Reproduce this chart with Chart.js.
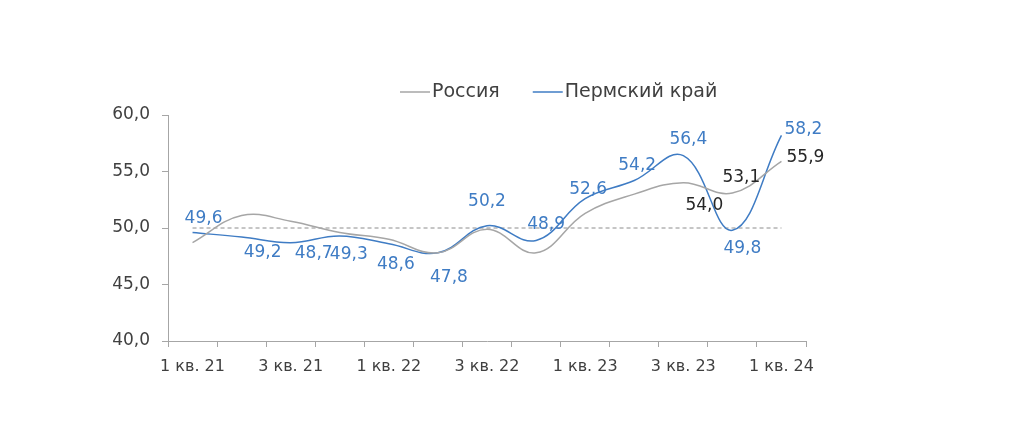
<!DOCTYPE html>
<html lang="ru">
<head>
<meta charset="utf-8">
<title>Россия и Пермский край</title>
<script src="https://cdn.jsdelivr.net/npm/chart.js@4/dist/chart.umd.min.js"></script>
<style>
    html, body { margin: 0; padding: 0; background: #fff; }
    #wrap { width: 1016px; height: 447px; position: relative; }
</style>
</head>
<body>
<div id="wrap"><canvas id="chart" width="1016" height="447"></canvas></div>
<script>
// данные графика
const quarters = ['1 кв. 21', '2 кв. 21', '3 кв. 21', '4 кв. 21', '1 кв. 22', '2 кв. 22', '3 кв. 22',
    '4 кв. 22', '1 кв. 23', '2 кв. 23', '3 кв. 23', '4 кв. 23', '1 кв. 24'];
const russia = [48.7, 51.1, 50.6, 49.6, 49.0, 47.8, 49.9, 47.8, 51.3, 53.0, 54.0, 53.1, 55.9];
const perm = [49.6, 49.2, 48.7, 49.3, 48.6, 47.8, 50.2, 48.9, 52.6, 54.2, 56.4, 49.8, 58.2];
const baseline = [50, 50, 50, 50, 50, 50, 50, 50, 50, 50, 50, 50, 50];
const yMin = 40;
const yMax = 60;
const yStep = 5;

// смещения подписей значений относительно точек (null — без подписи)
const permLabelPos = [[11, -14], [21, 16], [23, 11], [9, 19], [7, 21], [11, 25], [0, -24],
    [10, -16], [3, -9], [3, -15], [5, -16], [10, 18], [22, -6]];
const russiaLabelPos = [null, null, null, null, null, null, null, null, null, null,
    [21, 23], [9, -15], [24, -4]];

const FONT = '"DejaVu Sans", sans-serif';
const fmt = v => v.toFixed(1).replace('.', ',');

// подписи значений у точек
const valueLabels = {
    id: 'valueLabels',
    afterDatasetsDraw(chart) {
        const ctx = chart.ctx;
        ctx.save();
        ctx.font = '17px ' + FONT;
        ctx.textAlign = 'center';
        ctx.textBaseline = 'middle';
        chart.data.datasets.forEach((ds, di) => {
            if (!ds.labelPos) return;
            const meta = chart.getDatasetMeta(di);
            ctx.fillStyle = ds.labelColor;
            meta.data.forEach((pt, i) => {
                const off = ds.labelPos[i];
                if (!off) return;
                ctx.fillText(fmt(ds.data[i]), pt.x + off[0], pt.y + off[1]);
            });
        });
        ctx.restore();
    }
};

// легенда над графиком
const topLegend = {
    id: 'topLegend',
    afterDraw(chart) {
        const ctx = chart.ctx;
        ctx.save();
        ctx.font = '19px ' + FONT;
        ctx.textBaseline = 'middle';
        let x = 400;
        const y = 92;
        chart.data.datasets.filter(ds => ds.inLegend).forEach(ds => {
            ctx.strokeStyle = ds.borderColor;
            ctx.lineWidth = 1.5;
            ctx.beginPath();
            ctx.moveTo(x, y);
            ctx.lineTo(x + 30, y);
            ctx.stroke();
            ctx.fillStyle = '#404040';
            ctx.fillText(ds.label, x + 32, y);
            x += 32 + ctx.measureText(ds.label).width + 33;
        });
        ctx.restore();
    }
};

new Chart(document.getElementById('chart'), {
    type: 'line',
    data: {
        labels: quarters,
        datasets: [
            {
                label: 'Россия',
                data: russia,
                borderColor: '#a6a6a6',
                borderWidth: 1.5,
                tension: 0.4,
                pointRadius: 0,
                labelPos: russiaLabelPos,
                labelColor: '#262626',
                inLegend: true
            },
            {
                label: 'Пермский край',
                data: perm,
                borderColor: '#3f7cc4',
                borderWidth: 1.5,
                tension: 0.4,
                pointRadius: 0,
                labelPos: permLabelPos,
                labelColor: '#3f7cc4',
                inLegend: true
            },
            {
                label: '50',
                data: baseline,
                borderColor: '#8c8c8c',
                borderWidth: 1,
                borderDash: [4, 3],
                pointRadius: 0,
                inLegend: false
            }
        ]
    },
    options: {
        responsive: false,
        animation: false,
        layout: { padding: { top: 115, right: 210, bottom: 0, left: 0 } },
        plugins: {
            legend: { display: false },
            tooltip: { enabled: false }
        },
        scales: {
            x: {
                offset: true,
                grid: { offset: true, drawOnChartArea: false, drawTicks: true, tickLength: 6, color: '#a6a6a6' },
                border: { color: '#a6a6a6' },
                ticks: {
                    autoSkip: false,
                    maxRotation: 0,
                    padding: 10,
                    color: '#404040',
                    font: { family: FONT, size: 16 },
                    callback: (v, i) => (i % 2 === 0 ? quarters[i] : '')
                },
                afterFit: scale => { scale.height = 106; }
            },
            y: {
                min: yMin,
                max: yMax,
                grid: { drawOnChartArea: false, drawTicks: true, tickLength: 6, color: '#a6a6a6' },
                border: { color: '#a6a6a6' },
                ticks: {
                    stepSize: yStep,
                    padding: 12,
                    color: '#404040',
                    font: { family: FONT, size: 17 },
                    callback: v => fmt(v)
                },
                afterFit: scale => { scale.width = 168; }
            }
        }
    },
    plugins: [valueLabels, topLegend]
});
</script>
</body>
</html>
